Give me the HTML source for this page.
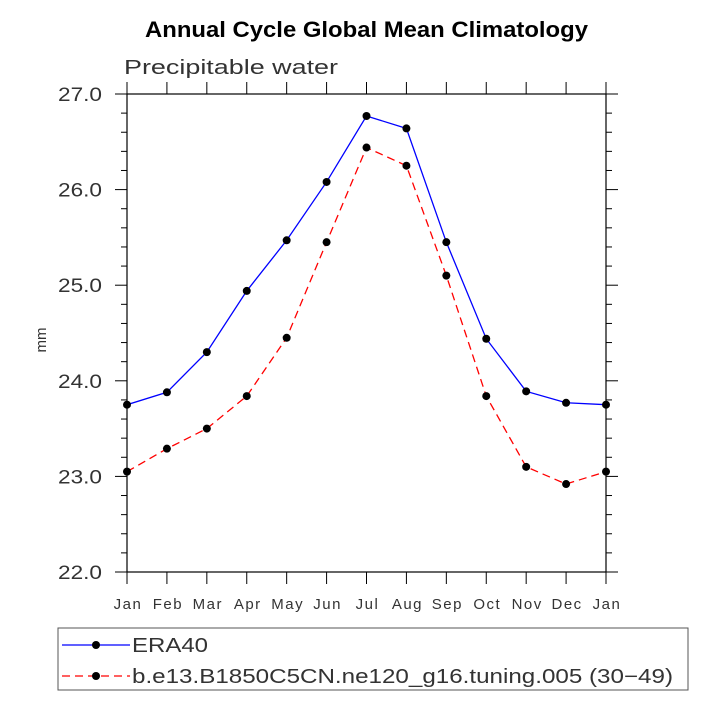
<!DOCTYPE html>
<html><head><meta charset="utf-8"><style>body{margin:0;background:#fff}svg{display:block}</style></head>
<body>
<svg id="c" width="710" height="710" xmlns="http://www.w3.org/2000/svg" font-family="Liberation Sans, sans-serif">
<text x="145" y="37" textLength="443" lengthAdjust="spacingAndGlyphs" font-size="22" font-weight="bold">Annual Cycle Global Mean Climatology</text>
<text x="124" y="74" textLength="214" lengthAdjust="spacingAndGlyphs" font-size="20" fill="#333">Precipitable water</text>
<text x="0" y="0" transform="translate(46,340) rotate(-90)" text-anchor="middle" font-size="15" fill="#333">mm</text>
<g id="axes"></g>
<g id="marks"></g>
<rect x="58" y="628" width="630" height="62" fill="none" stroke="#555" stroke-width="1"/>
<g>
<line x1="62" y1="645" x2="130" y2="645" stroke="#0000ff" stroke-width="1.2"/>
<circle cx="96" cy="645" r="4" fill="#000"/>
<text x="132" y="652" textLength="76" lengthAdjust="spacingAndGlyphs" font-size="20" fill="#333">ERA40</text></g>
<g>
<line x1="62" y1="676" x2="130" y2="676" stroke="#ff0000" stroke-width="1.2" stroke-dasharray="8,5"/>
<circle cx="96" cy="676" r="4" fill="#000"/>
<text x="132" y="683" textLength="541" lengthAdjust="spacingAndGlyphs" font-size="20" fill="#333">b.e13.B1850C5CN.ne120_g16.tuning.005 (30−49)</text></g>
</svg>
<script>
const months=["Jan","Feb","Mar","Apr","May","Jun","Jul","Aug","Sep","Oct","Nov","Dec","Jan"];
const era40=[23.75,23.88,24.30,24.94,25.47,26.08,26.77,26.64,25.45,24.44,23.89,23.77,23.75];
const model=[23.05,23.29,23.50,23.84,24.45,25.45,26.44,26.25,25.10,23.84,23.10,22.92,23.05];
const yTicks=["22.0","23.0","24.0","25.0","26.0","27.0"];
const L=127,R=606,T=94,B=572,ymin=22,ymax=27;
const xs=i=>L+i*(R-L)/(months.length-1);
const ys=v=>B-(v-ymin)/(ymax-ymin)*(B-T);
const NS="http://www.w3.org/2000/svg";
function mk(p,t,a){const e=document.createElementNS(NS,t);for(const k in a)e.setAttribute(k,a[k]);p.appendChild(e);return e;}
const ax=document.getElementById('axes'),mg=document.getElementById('marks');
const fr=mk(ax,'rect',{x:L,y:T,width:R-L,height:B-T,fill:'none',stroke:'#000','stroke-width':1.2});


months.forEach((m,i)=>{const x=xs(i);
 mk(ax,'line',{x1:x,y1:B,x2:x,y2:B+12,stroke:'#000'});
 mk(ax,'line',{x1:x,y1:T,x2:x,y2:T-12,stroke:'#000'});
 const t=mk(ax,'text',{x:x+1,y:B+37,'text-anchor':'middle','font-size':15,fill:'#333','letter-spacing':1.5});t.textContent=m;
 
 
});
for(let v=ymin;v<=ymax+1e-9;v+=0.2){const y=ys(v);const maj=Math.abs(v-Math.round(v))<1e-6;const l=maj?12:6;
 mk(ax,'line',{x1:L-l,y1:y,x2:L,y2:y,stroke:'#000'});
 mk(ax,'line',{x1:R,y1:y,x2:R+l,y2:y,stroke:'#000'});}
yTicks.forEach(s=>{const y=ys(parseFloat(s));
 const t=mk(ax,'text',{x:L-25,y:y+7,'text-anchor':'end','font-size':19,fill:'#333',textLength:44,lengthAdjust:'spacingAndGlyphs'});t.textContent=s;
 
 });
function series(d,col,dash,name){
 const p=mk(mg,'polyline',{points:d.map((v,i)=>xs(i)+','+ys(v)).join(' '),fill:'none',stroke:col,'stroke-width':1.3,'stroke-dasharray':dash});
 
 
 d.forEach((v,i)=>{const c=mk(mg,'circle',{cx:xs(i),cy:ys(v),r:4,fill:'#000'});
  
  });}
series(era40,'#0000ff','none','era40');
series(model,'#ff0000','8,5','model');
</script>
</body></html>
